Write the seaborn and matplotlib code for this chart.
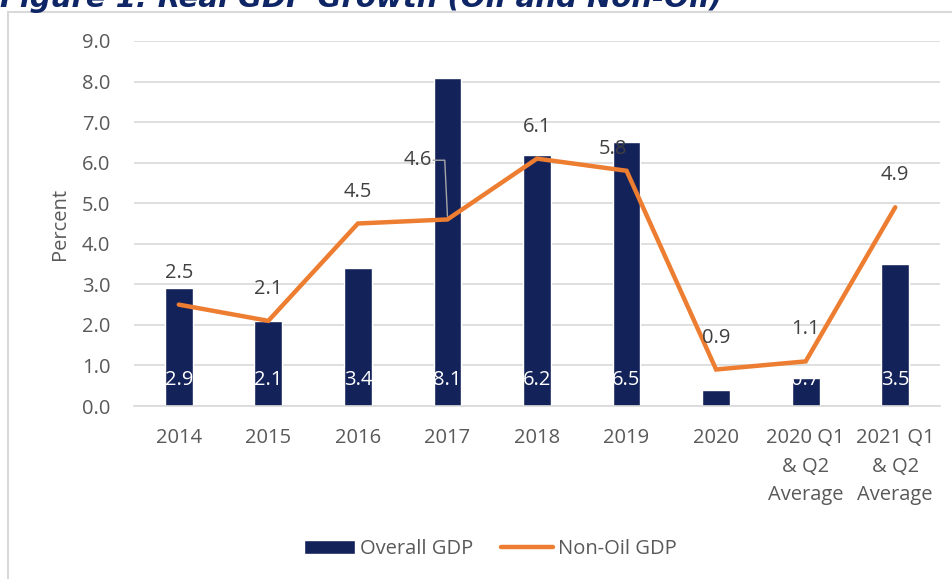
import matplotlib
matplotlib.use("Agg")
import matplotlib.pyplot as plt
import seaborn as sns
import numpy as np
import pandas as pd
from matplotlib.patches import Rectangle

categories = ["2014", "2015", "2016", "2017", "2018", "2019", "2020",
              "2020 Q1\n& Q2\nAverage", "2021 Q1\n& Q2\nAverage"]
overall_gdp = [2.9, 2.1, 3.4, 8.1, 6.2, 6.5, 0.4, 0.7, 3.5]
non_oil_gdp = [2.5, 2.1, 4.5, 4.6, 6.1, 5.8, 0.9, 1.1, 4.9]
y_ticks = [0, 1, 2, 3, 4, 5, 6, 7, 8, 9]

sns.set_theme(style="white")
plt.rcParams["font.family"] = ["Open Sans", "DejaVu Sans"]

BAR = "#14225A"
ORANGE = "#ED7D31"
GRAY_TXT = "#595959"
GRID = "#D9D9D9"
FS = 14.5

fig = plt.figure(figsize=(9.53, 5.79), dpi=100)
ax = fig.add_axes([134/953, 1-406/579, (940-134)/953, (406-41)/579])

df = pd.DataFrame({"cat": categories, "overall": overall_gdp,
                   "pos": np.arange(len(categories)), "nonoil": non_oil_gdp})

sns.barplot(data=df, x="cat", y="overall", color=BAR, width=0.31,
            saturation=1, ax=ax, label="Overall GDP", zorder=2)
sns.lineplot(data=df, x="pos", y="nonoil", color=ORANGE, lw=3.2, ax=ax,
             label="Non-Oil GDP", zorder=3, solid_joinstyle="miter")

ax.set_xlim(-0.5, len(categories) - 0.5)
ax.set_ylim(0, 9)
ax.set_yticks(y_ticks)
ax.set_yticklabels([f"{v:.1f}" for v in y_ticks])
ax.set_xticks(np.arange(len(categories)))
ax.set_xticklabels(categories, linespacing=1.57)
ax.tick_params(axis="y", length=0, pad=17, labelsize=FS, labelcolor=GRAY_TXT)
ax.tick_params(axis="x", length=0, pad=16, labelsize=FS, labelcolor=GRAY_TXT)
ax.set_xlabel("")
ax.set_ylabel("Percent", fontsize=FS, color=GRAY_TXT)
ax.yaxis.set_label_coords(-(134-70)/806, 0.5)
ax.grid(axis="y", color=GRID, lw=1.2, zorder=0)
ax.set_axisbelow(True)
for s in ["top", "right", "left"]:
    ax.spines[s].set_visible(False)
ax.spines["bottom"].set_color(GRID)
ax.spines["bottom"].set_linewidth(1.2)

# bar labels (inside base, white)
for i, v in enumerate(overall_gdp):
    ax.text(i, 0.64, f"{v:.1f}", color="white", ha="center", va="center",
            fontsize=FS, zorder=4)

# line labels
offsets = {5: (-10, 16)}
for i, v in enumerate(non_oil_gdp):
    if i == 3:
        continue
    dx, dy = offsets.get(i, (0, 23))
    ax.annotate(f"{v:.1f}", (i, v), xytext=(dx, dy), textcoords="offset points",
                ha="center", va="center", fontsize=FS, color="#404040", zorder=5)

# 4.6 label with leader line
lab_x, lab_y = 3 - 0.33, 6.06
ax.text(lab_x, lab_y, f"{non_oil_gdp[3]:.1f}", ha="center", va="center",
        fontsize=FS, color="#404040", zorder=5)
ax.plot([3 - 0.16, 3 - 0.03, 3], [lab_y, lab_y, non_oil_gdp[3] + 0.08],
        color="#A6A6A6", lw=1, zorder=4)

leg = ax.get_legend()
if leg:
    leg.remove()
h, l = ax.get_legend_handles_labels()
order = [l.index("Overall GDP"), l.index("Non-Oil GDP")]
fig.legend([h[i] for i in order], [l[i] for i in order], loc="center",
           bbox_to_anchor=(490/953, 1-549/579), ncol=2,
           frameon=False, fontsize=FS, handlelength=2.55, handletextpad=0.25,
           columnspacing=1.4, labelcolor=GRAY_TXT)

# chart frame
fig.patches.append(Rectangle((8/953, -0.1), 1.2, 1.1 - 12.5/579, transform=fig.transFigure,
                             fill=False, edgecolor="#D9D9D9", lw=1.5))

fig.text(0.0, 1 - 7/579, "Figure 1: Real GDP Growth (Oil and Non-Oil)",
         fontsize=21, fontweight="bold", fontstyle="italic", color="#0E2566",
         family="DejaVu Sans", ha="left", va="baseline")

fig.savefig("out.png", dpi=100)
